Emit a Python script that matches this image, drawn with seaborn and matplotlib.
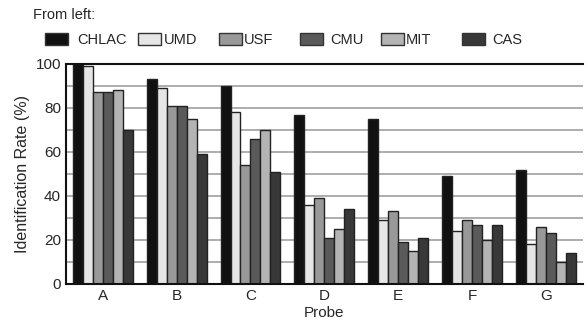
import numpy as np
import pandas as pd
import matplotlib
matplotlib.use("Agg")
import matplotlib.pyplot as plt
import seaborn as sns
from matplotlib.ticker import MultipleLocator, FixedLocator

probes = ["A", "B", "C", "D", "E", "F", "G"]
methods = ["CHLAC", "UMD", "USF", "CMU", "MIT", "CAS"]
chlac = [100, 93, 90, 77, 75, 49, 52]
umd = [99, 89, 78, 36, 29, 24, 18]
usf = [87, 81, 54, 39, 33, 29, 26]
cmu = [87, 81, 66, 21, 19, 27, 23]
mit = [88, 75, 70, 25, 15, 20, 10]
cas = [70, 59, 51, 34, 21, 27, 14]
colors = ["#111111", "#e6e6e6", "#999999", "#5a5a5a", "#b4b4b4", "#383838"]

rows = []
for m, vals in zip(methods, [chlac, umd, usf, cmu, mit, cas]):
    for p, v in zip(probes, vals):
        rows.append({"Probe": p, "Method": m, "Rate": v})
df = pd.DataFrame(rows)

sns.set_style("white")
plt.rcParams["font.family"] = ["Liberation Sans", "DejaVu Sans"]

W, H = 588, 331
fig = plt.figure(figsize=(W / 100, H / 100), dpi=100)
ax = fig.add_axes([0.112, 0.142, 0.879, 0.665])

sns.barplot(data=df, x="Probe", y="Rate", hue="Method", hue_order=methods,
            palette=colors, width=0.81, gap=0, edgecolor="#222222",
            linewidth=1.0, ax=ax, legend=False)

ax.set_xlim(-0.5, 6.5)
ax.set_ylim(0, 100)
ax.yaxis.set_major_locator(MultipleLocator(20))
ax.yaxis.set_minor_locator(MultipleLocator(10))
ax.grid(axis="y", which="both", color="#a0a0a0", linewidth=1.2)
ax.set_axisbelow(True)
ax.xaxis.set_minor_locator(FixedLocator(np.arange(0.5, 7, 1)))
ax.tick_params(axis="x", which="major", length=0, labelsize=11)
ax.tick_params(axis="x", which="minor", length=4, direction="in", width=1, color="#333333")
ax.tick_params(axis="y", which="both", length=0, labelsize=11)

for s in ["left", "top", "bottom"]:
    ax.spines[s].set_color("#111111")
    ax.spines[s].set_linewidth(1.5)
ax.spines["right"].set_visible(False)

ax.set_xlabel("Probe", fontsize=11, labelpad=2)
ax.set_ylabel("Identification Rate (%)", fontsize=11.5)

# legend drawn by hand above the axes (pixel layout of the original)
fig.text(33 / W, 1 - 15 / H, "From left:", fontsize=10.5, va="center")
box_x = [45, 138, 219, 300, 381, 462]
text_x = [77, 164, 244, 330, 406, 492]
for bx, tx, c, m in zip(box_x, text_x, colors, methods):
    fig.patches.append(plt.Rectangle((bx / W, 1 - 45 / H), 23 / W, 12 / H,
                                     facecolor=c, edgecolor="#333333", linewidth=1,
                                     transform=fig.transFigure, figure=fig))
    fig.text(tx / W, 1 - 39.5 / H, m, fontsize=10.5, va="center")

fig.savefig("out.png", dpi=100)
